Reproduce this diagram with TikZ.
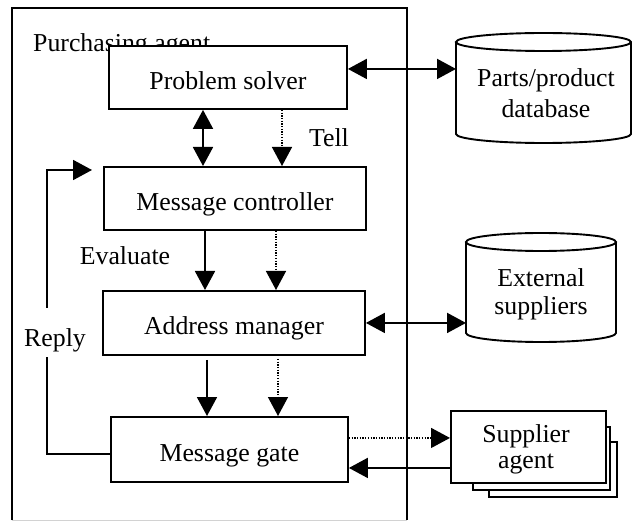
\documentclass[tikz,border=0pt]{standalone}
\usepackage{fontspec}
\setmainfont{Liberation Serif}
\usetikzlibrary{arrows.meta}
\begin{document}
\begin{tikzpicture}[x=1pt,y=-1pt,
  every node/.style={font=\fontsize{25.8}{30}\selectfont},
  bigtri/.tip={Triangle[length=19pt,width=20pt]},
  link/.style={line width=1.9pt},
  dots/.style={line width=1.4pt, dash pattern=on 1.3pt off 1.4pt},
  box/.style={draw, line width=1.9pt, fill=white, inner sep=0pt, anchor=north west,
              text height=24pt, text depth=0pt},
  body/.style={inner sep=0pt, anchor=north west},
  lbl/.style={anchor=base, inner sep=0pt},
]
\useasboundingbox (0,0) rectangle (632,521);

% purchasing agent frame
\draw[link] (12,520) -- (12,8) -- (407,8) -- (407,520);
\draw[gray!35, line width=1pt] (12,520) -- (407,520);
\node[anchor=base west, inner sep=0pt] (agentlbl) at (33,52) {Purchasing agent};

% components of the agent
\node[box, minimum width=238pt, minimum height=63pt] (ps) at (108,45) {Problem solver};
\node[box, minimum width=262pt, minimum height=63pt] (mc) at (103,166) {Message controller};
\node[box, minimum width=262pt, minimum height=64pt] (am) at (102,290) {Address manager};
\node[box, minimum width=237pt, minimum height=65pt] (mg) at (110,416) {Message gate};

% parts/product database
\node[body, minimum width=175pt, minimum height=110pt] (db) at (456,33) {};
\draw[link] (543.5,42) ellipse [x radius=87.5, y radius=9];
\draw[link] (456,42) -- (456,134) arc[start angle=180, end angle=0, x radius=87.5, y radius=9] -- (631,42);
\node[lbl] (dbtext) at (546,87) {\begin{tabular}[t]{@{}c@{}}Parts/product\\[1pt]database\end{tabular}};

% external suppliers database
\node[body, minimum width=150pt, minimum height=109pt] (ext) at (466,233) {};
\draw[link] (541,242) ellipse [x radius=75, y radius=9];
\draw[link] (466,242) -- (466,333) arc[start angle=180, end angle=0, x radius=75, y radius=9] -- (616,242);
\node[lbl] (exttext) at (541,287) {\begin{tabular}[t]{@{}c@{}}External\\[-2pt]suppliers\end{tabular}};

% stacked supplier agents
\draw[link, fill=white] (489,442) rectangle (617,497);
\draw[link, fill=white] (473,427) rectangle (610,490);
\node[draw, line width=1.9pt, fill=white, anchor=north west, inner sep=0pt,
      minimum width=155pt, minimum height=72pt] (sa) at (450,410) {};
\node[lbl] (satext) at (526,442) {\begin{tabular}[t]{@{}c@{}}Supplier\\[-4pt]agent\end{tabular}};

% vertical flows inside the agent
\coordinate (p1) at ([xshift=95pt]ps.south west);
\coordinate (p2) at ([xshift=174pt]ps.south west);
\draw[link, bigtri-bigtri] (p1) -- (p1 |- mc.north);
\draw[dots, -bigtri] (p2) -- (p2 |- mc.north);

\coordinate (m1) at ([xshift=102pt]mc.south west);
\coordinate (m2) at ([xshift=173pt]mc.south west);
\draw[link, -bigtri] (m1) -- (m1 |- am.north);
\draw[dots, -bigtri] (m2) -- (m2 |- am.north);

\coordinate (a1) at ([xshift=105pt,yshift=-4pt]am.south west);
\coordinate (a2) at ([xshift=176pt,yshift=-3pt]am.south west);
\draw[link, -bigtri] (a1) -- (a1 |- mg.north);
\draw[dots, -bigtri] (a2) -- (a2 |- mg.north);

% links to the outside
\coordinate (psr) at ([yshift=8.5pt]ps.east);
\draw[link, bigtri-bigtri] (psr) -- (psr -| db.west);
\draw[link, bigtri-bigtri] (am.east) -- (am.east -| ext.west);
\coordinate (s1) at ([yshift=9pt]sa.west);
\coordinate (s2) at ([yshift=-21pt]sa.west);
\draw[dots, -bigtri] (s1 -| mg.east) -- (s1);
\draw[link, -bigtri] (s2) -- (s2 -| mg.east);

% reply loop
\coordinate (rend) at ([xshift=-11pt,yshift=-4pt]mc.north west);
\coordinate (rturn) at (47,170);
\draw[link, -bigtri] ([yshift=-4.5pt]mg.west) -| (rturn) -- (rend);
\node[anchor=base, fill=white, inner xsep=1pt, inner ysep=2pt, text height=37pt, text depth=8pt]
  (reply) at (55,347) {Reply};

% labels
\node[lbl] (evaluate) at (125,265) {Evaluate};
\node[lbl] (tell) at (329,147) {Tell};
\end{tikzpicture}
\end{document}
